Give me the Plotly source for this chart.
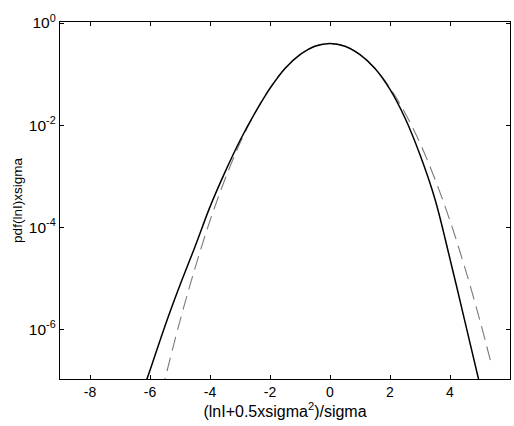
import plotly.graph_objects as go

# Solid curve: x and log10(pdf)
solid_x = [-6.15, -6.0, -5.5, -5.0, -4.5, -4.0, -3.5, -3.0, -2.5, -2.0, -1.5, -1.0, -0.5,
           0.0, 0.5, 1.0, 1.5, 2.0, 2.5, 3.0, 3.5, 4.0, 4.5, 4.95]
solid_log = [-7.05, -6.80, -5.93, -5.13, -4.38, -3.60, -2.92, -2.30, -1.76, -1.28, -0.89, -0.62, -0.455,
             -0.40, -0.455, -0.62, -0.89, -1.30, -1.86, -2.58, -3.45, -4.62, -5.85, -6.97]

# Dashed curve: x and log10(pdf)
dash_x = [-5.6, -5.5, -5.0, -4.5, -4.0, -3.5, -3.0, -2.5, -2.0, -1.5, -1.0, -0.5,
          0.0, 0.5, 1.0, 1.5, 2.0, 2.5, 3.0, 3.5, 4.0, 4.5, 5.0, 5.4]
dash_log = [-7.21, -6.97, -5.83, -4.80, -3.87, -3.06, -2.35, -1.76, -1.27, -0.89, -0.62, -0.45,
            -0.40, -0.45, -0.62, -0.89, -1.27, -1.76, -2.35, -3.06, -3.87, -4.80, -5.83, -6.73]

x_ticks = [-8, -6, -4, -2, 0, 2, 4, 6]
y_tick_exp = [0, -2, -4, -6]

solid_y = [10 ** v for v in solid_log]
dash_y = [10 ** v for v in dash_log]

fig = go.Figure()
fig.add_trace(go.Scatter(x=dash_x, y=dash_y, mode="lines",
                         line=dict(color="#7a7a7a", width=1.1, dash="14px,7px", shape="spline"),
                         showlegend=False))
fig.add_trace(go.Scatter(x=solid_x, y=solid_y, mode="lines",
                         line=dict(color="black", width=1.5, shape="spline"),
                         showlegend=False))

fam = "Liberation Sans, Arial, sans-serif"
xtick_font = dict(family=fam, size=14, color="black")
ytick_font = dict(family=fam, size=15.5, color="black")
xtitle_font = dict(family=fam, size=16, color="black")
ytitle_font = dict(family=fam, size=13.5, color="black")

fig.update_layout(
    width=514, height=426,
    margin=dict(l=60, r=4, t=22, b=47),
    paper_bgcolor="white", plot_bgcolor="white",
    font=dict(family=fam, size=14, color="black"),
    xaxis=dict(range=[-9, 6], tickvals=x_ticks, ticktext=[str(t) for t in x_ticks],
               ticks="inside", ticklen=4, tickcolor="black", showgrid=False, zeroline=False,
               showline=True, linecolor="black", linewidth=1.3, mirror="ticks",
               title=dict(text="(lnI+0.5xsigma<sup>2</sup>)/sigma", standoff=1, font=xtitle_font),
               tickfont=xtick_font),
    yaxis=dict(type="log", range=[-6.97, 0.02],
               tickvals=[10 ** e for e in y_tick_exp],
               ticktext=["10<sup>%d</sup>" % e for e in y_tick_exp],
               ticks="inside", ticklen=4, tickcolor="black", showgrid=False, zeroline=False,
               showline=True, linecolor="black", linewidth=1.3, mirror="ticks",
               title=dict(text="pdf(lnI)xsigma", standoff=3, font=ytitle_font),
               tickfont=ytick_font),
)

fig.write_html("out.html")
